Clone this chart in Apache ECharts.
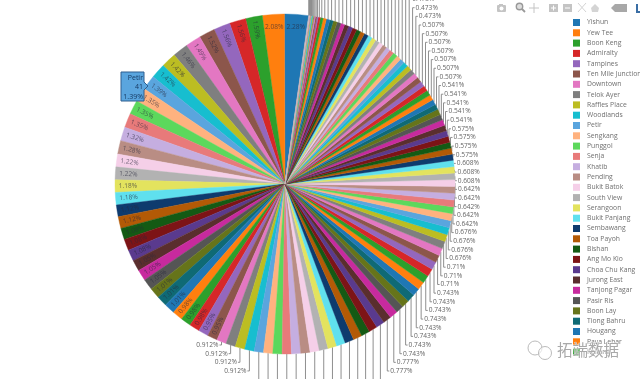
<!DOCTYPE html>
<html>
<head>
<meta charset="utf-8">
<style>html,body{margin:0;padding:0;background:#fff}#c{width:640px;height:379px}</style>
<script src="https://cdn.jsdelivr.net/npm/echarts@6/dist/echarts.min.js"></script>
</head>
<body>
<div id="c"></div>
<script>
const legendNames = ['Yishun','Yew Tee','Boon Keng','Admiralty','Tampines','Ten Mile Junction','Downtown','Telok Ayer','Raffles Place','Woodlands','Petir','Sengkang','Punggol','Senja','Khatib','Pending','Bukit Batok','South View','Serangoon','Bukit Panjang','Sembawang','Toa Payoh','Bishan','Ang Mo Kio','Choa Chu Kang','Jurong East','Tanjong Pagar','Pasir Ris','Boon Lay','Tiong Bahru','Hougang','Paya Lebar','Kallang'];
const palette = ['#1f77b4','#ff7f0e','#2ca02c','#d62728','#9467bd','#8c564b','#e377c2','#7f7f7f','#bcbd22','#17becf','#5aa5de','#ffb27f','#5cd85c','#e87a7a','#c5aee0','#b98d84','#f5cfe8','#b2b2b2','#e3e35e','#5fe0ee','#0e3b6e','#b35a06','#145a14','#7d1416','#5a3a8e','#5a2e2e','#c72a9e','#555555','#66741a','#0f6a75'];
const insideValues = [2.28,2.08,1.59,1.56,1.56,1.52,1.49,1.46,1.42,1.42,1.39,1.35,1.35,1.35,1.32,1.28,1.22,1.22,1.18,1.18,1.12,1.12,1.08,1.08,1.08,1.05,1.05,1.05,1.01,1.01,1.01,0.98,0.98,0.98,0.95,0.95];
const outsideValues = [0.912,0.912,0.912,0.912,0.878,0.878,0.878,0.878,0.878,0.878,0.878,0.845,0.845,0.845,0.845,0.845,0.811,0.811,0.811,0.777,0.777,0.743,0.743,0.743,0.743,0.743,0.743,0.743,0.743,0.71,0.71,0.71,0.676,0.676,0.676,0.676,0.642,0.642,0.642,0.642,0.642,0.608,0.608,0.608,0.575,0.575,0.575,0.575,0.541,0.541,0.541,0.541,0.541,0.507,0.507,0.507,0.507,0.507,0.507,0.507,0.473,0.473,0.473,0.473,0.44,0.44,0.44,0.44,0.406,0.406,0.406,0.406,0.406,0.406,0.406,0.406,0.406,0.406,0.406,0.406,0.372,0.372,0.372,0.338,0.338,0.304,0.27,0.203,0.135,0.135,0.101,0.101,0.068,0.068,0.068,0.034,0.034,0.034,0.034,0.034,0.034,0.034];
const petirVisits = 41;
const petirIndex = 10;

const CX = 285, CY = 184, R = 170, LABEL_R = 157;
const START_DEG = 8;
const STEP = 8.65;
const values = insideValues.concat(outsideValues);
const total = values.reduce((a, b) => a + b, 0);
const nIn = insideValues.length;

// middle angle of each slice, measured counter-clockwise from 12 o'clock
let acc = 0;
const mids = values.map(v => {
  const m = (acc + v / 2) / total * 2 * Math.PI - START_DEG * Math.PI / 180;
  acc += v;
  return m;
});

function stackY(idx) {
  const rimX = CX - R * Math.sin(mids[idx]);
  return rimX < CX ? 345 + STEP * (idx - nIn) : 371 - STEP * (idx - 55);
}

const pieData = values.map((v, i) => {
  const c = palette[i % palette.length];
  return {
    name: legendNames[i] || ('#' + (i + 1)),
    value: v,
    itemStyle: { color: c, borderColor: c, borderWidth: 0.4 }
  };
});

const chart = echarts.init(document.getElementById('c'), null, { renderer: 'canvas' });
const G = '#c4c4c4';
chart.setOption({
  animation: false,
  backgroundColor: '#fff',
  legend: {
    orient: 'vertical', left: 573, top: 19, height: 400, padding: 0,
    itemWidth: 7, itemHeight: 7, itemGap: 3.3, icon: 'rect', selectedMode: false,
    itemStyle: { borderWidth: 0 },
    data: legendNames,
    textStyle: { fontFamily: 'Open Sans', fontSize: 6.8, color: '#707070', lineHeight: 7, padding: [0, 0, 0, 2] }
  },
  series: [
    {
      type: 'custom', coordinateSystem: 'none', silent: true, z: 1, clip: false,
      data: outsideValues.map((v, k) => [k + nIn, v]),
      renderItem(params, api) {
        const idx = api.value(0), v = api.value(1);
        const x = CX - R * Math.sin(mids[idx]);
        const rimY = CY - R * Math.cos(mids[idx]);
        const y = stackY(idx);
        const left = x < CX;
        const end = left ? x - 2 : x + 2;
        const children = [
          { type: 'polyline', shape: { points: [[x, rimY], [x, y], [end, y]] },
            style: { stroke: '#8f8f8f', lineWidth: 1, fill: null } }
        ];
        if (y < 376) children.push({ type: 'text', style: { x: left ? end - 1 : end + 1, y, text: v + '%', fill: '#666',
          font: '6.6px "Open Sans"', textAlign: left ? 'right' : 'left', textVerticalAlign: 'middle' } });
        return { type: 'group', children };
      }
    },
    {
      type: 'pie', z: 2, silent: true,
      center: [CX, CY], radius: [0, R],
      startAngle: 90 - START_DEG, clockwise: false,
      avoidLabelOverlap: false, minAngle: 0, sort: null,
      data: pieData,
      label: { show: false },
      labelLine: { show: false }
    },
    {
      type: 'custom', coordinateSystem: 'none', silent: true, z: 3, clip: false,
      data: insideValues.map((v, i) => [i, v]),
      renderItem(params, api) {
        const i = api.value(0), m = mids[i];
        return {
          type: 'text',
          x: CX - LABEL_R * Math.sin(m),
          y: CY - LABEL_R * Math.cos(m),
          rotation: i < 2 ? 0 : m - Math.PI / 2,
          style: { x: 0, y: 0, text: api.value(1) + '%', fill: 'rgba(40,40,60,0.65)',
            font: '6.6px "Open Sans"', textAlign: 'center', textVerticalAlign: 'middle' }
        };
      }
    }
  ],
  graphic: [
    // hover box on Petir
    { type: 'polygon', z: 20, shape: { points: [[121, 72], [144, 72], [144, 82], [148, 86], [144, 90], [144, 101], [121, 101]] },
      style: { fill: palette[petirIndex], stroke: '#2f5f8f', lineWidth: 1 } },
    { type: 'text', z: 21, style: { x: 143, y: 73, text: legendNames[petirIndex] + '\n' + petirVisits + '\n' + values[petirIndex] + '%',
      fill: '#173a63', font: '7px "Open Sans"', textAlign: 'right', lineHeight: 9.4 } },
    // mode bar
    { type: 'rect', shape: { x: 497, y: 5, width: 9, height: 7, r: 1 }, style: { fill: G } },
    { type: 'rect', shape: { x: 499, y: 4, width: 4, height: 2 }, style: { fill: G } },
    { type: 'circle', shape: { cx: 501.5, cy: 8.5, r: 2 }, style: { fill: '#fff' } },
    { type: 'circle', shape: { cx: 519.5, cy: 6.5, r: 3.2 }, style: { fill: '#ddd', stroke: '#999', lineWidth: 1.4 } },
    { type: 'line', shape: { x1: 522, y1: 9, x2: 525, y2: 12 }, style: { stroke: '#999', lineWidth: 1.8 } },
    { type: 'line', shape: { x1: 529, y1: 8, x2: 539, y2: 8 }, style: { stroke: G, lineWidth: 1 } },
    { type: 'line', shape: { x1: 534, y1: 3, x2: 534, y2: 13 }, style: { stroke: G, lineWidth: 1 } },
    { type: 'rect', shape: { x: 549, y: 4, width: 9, height: 8 }, style: { fill: G } },
    { type: 'line', shape: { x1: 551, y1: 8, x2: 556, y2: 8 }, style: { stroke: '#fff', lineWidth: 1 } },
    { type: 'line', shape: { x1: 553.5, y1: 5.5, x2: 553.5, y2: 10.5 }, style: { stroke: '#fff', lineWidth: 1 } },
    { type: 'rect', shape: { x: 563, y: 4, width: 9, height: 8 }, style: { fill: G } },
    { type: 'line', shape: { x1: 565, y1: 8, x2: 570, y2: 8 }, style: { stroke: '#fff', lineWidth: 1 } },
    { type: 'line', shape: { x1: 578, y1: 3, x2: 586, y2: 12 }, style: { stroke: '#d4d4d4', lineWidth: 1 } },
    { type: 'line', shape: { x1: 586, y1: 3, x2: 578, y2: 12 }, style: { stroke: '#d4d4d4', lineWidth: 1 } },
    { type: 'polygon', shape: { points: [[591, 8], [595, 4], [599, 8], [598, 12], [592, 12]] }, style: { fill: '#d4d4d4' } },
    { type: 'polygon', shape: { points: [[611, 8], [615, 4], [627, 4], [627, 12], [615, 12]] }, style: { fill: '#a8a8a8' } },
    { type: 'polygon', shape: { points: [[634, 13], [636, 13], [636, 4], [638, 4], [638, 11], [640, 11], [640, 13]] }, style: { fill: '#3a6ea5' } },
    // watermark
    { type: 'circle', z: 30, shape: { cx: 535, cy: 348, r: 7 }, style: { fill: 'rgba(255,255,255,0.6)', stroke: '#bbb', lineWidth: 1 } },
    { type: 'circle', z: 30, shape: { cx: 545, cy: 353, r: 6.5 }, style: { fill: 'rgba(255,255,255,0.6)', stroke: '#bbb', lineWidth: 1 } },
    { type: 'text', z: 31, style: { x: 557, y: 342, text: '拓端数据', fill: '#a9a9a9', stroke: 'rgba(255,255,255,0.7)', lineWidth: 1, font: '15.5px "Noto Sans CJK SC"' } }
  ]
});
</script>
</body>
</html>
